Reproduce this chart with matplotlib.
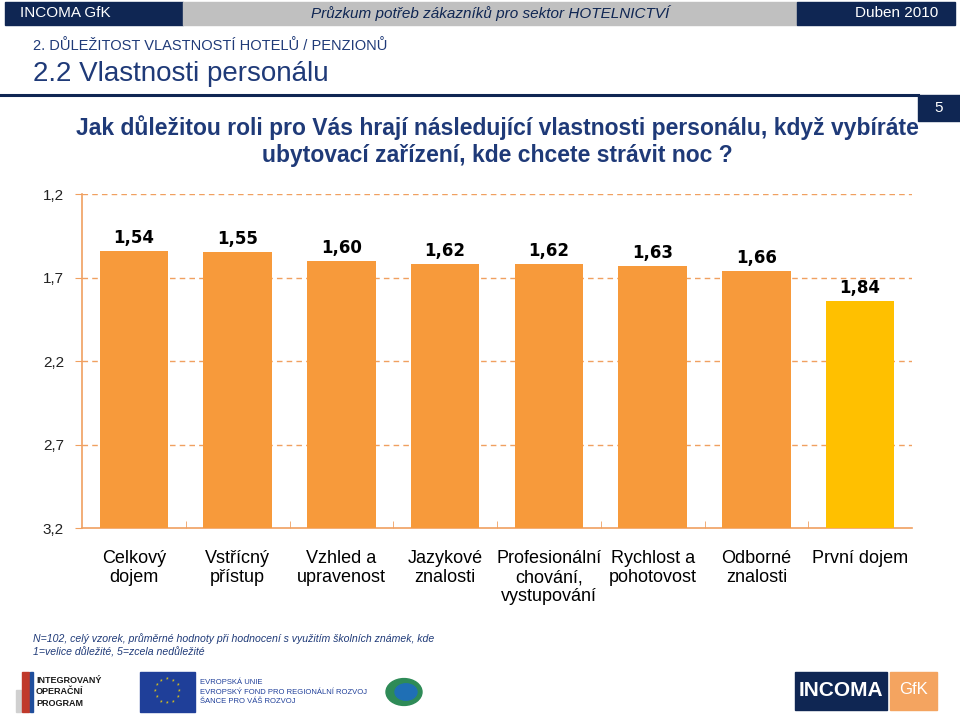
import numpy as np
import matplotlib.pyplot as plt
from matplotlib.patches import Rectangle, Circle

# data
categories = ["Celkový\ndojem", "Vstřícný\npřístup", "Vzhled a\nupravenost", "Jazykové\nznalosti",
              "Profesionální\nchování,\nvystupování", "Rychlost a\npohotovost", "Odborné\nznalosti",
              "První dojem"]
values = [1.54, 1.55, 1.60, 1.62, 1.62, 1.63, 1.66, 1.84]
value_labels = ["1,54", "1,55", "1,60", "1,62", "1,62", "1,63", "1,66", "1,84"]
yticks = [1.2, 1.7, 2.2, 2.7, 3.2]
ytick_labels = ["1,2", "1,7", "2,2", "2,7", "3,2"]

NAVY = "#0f2653"
ORANGE = "#f79a3b"
YELLOW = "#ffc000"
GRID = "#f0a060"
FONT = "Liberation Sans"

plt.rcParams["font.family"] = [FONT, "DejaVu Sans"]

fig = plt.figure(figsize=(9.6, 7.16), dpi=100)

W, H = 960, 716
def fx(px):
    return px / W
def fy(py):
    return 1 - py / H

# header band
fig.patches.append(Rectangle((fx(5), fy(25)), fx(178), 23 / H, color=NAVY, transform=fig.transFigure))
fig.patches.append(Rectangle((fx(183), fy(25)), fx(614), 23 / H, color="#c0c0c0", transform=fig.transFigure))
fig.patches.append(Rectangle((fx(797), fy(25)), fx(158), 23 / H, color=NAVY, transform=fig.transFigure))
fig.text(fx(20), fy(13), "INCOMA GfK", color="white", fontsize=11, va="center")
fig.text(fx(490), fy(13), "Průzkum potřeb zákazníků pro sektor HOTELNICTVÍ", color=NAVY,
         fontsize=11, style="italic", va="center", ha="center")
fig.text(fx(938), fy(13), "Duben 2010", color="white", fontsize=11, va="center", ha="right")

# section titles
fig.text(fx(33), fy(46), "2. DŮLEŽITOST VLASTNOSTÍ HOTELŮ / PENZIONŮ", color="#1f3a78", fontsize=10.5, va="center")
fig.text(fx(33), fy(74), "2.2 Vlastnosti personálu", color="#1f3a78", fontsize=20, va="center")
fig.add_artist(plt.Line2D([0, fx(918)], [fy(95), fy(95)], color=NAVY, lw=2.2, transform=fig.transFigure))
fig.patches.append(Rectangle((fx(918), fy(121)), fx(42), 26 / H, color=NAVY, transform=fig.transFigure))
fig.text(fx(939), fy(108), "5", color="white", fontsize=11, va="center", ha="center")

# question
fig.text(fx(497), fy(141), "Jak důležitou roli pro Vás hrají následující vlastnosti personálu, když vybíráte\n"
         "ubytovací zařízení, kde chcete strávit noc ?", color="#1f3a78", fontsize=16.5,
         fontweight="bold", ha="center", va="center", linespacing=1.2)

# chart
ax = fig.add_axes([fx(82), fy(528), fx(912 - 82), (528 - 194) / H])
x = np.arange(len(categories))
colors = [ORANGE] * (len(values) - 1) + [YELLOW]
heights = [v - 3.2 for v in values]
ax.bar(x, heights, bottom=3.2, width=0.66, color=colors, zorder=3)
for xi, v, lab in zip(x, values, value_labels):
    ax.text(xi, v - 0.025, lab, ha="center", va="bottom", fontsize=12, fontweight="bold",
            family="DejaVu Sans", zorder=4)

ax.set_xlim(-0.5, len(categories) - 0.5)
ax.set_ylim(3.2, 1.2)
ax.set_yticks(yticks)
ax.set_yticklabels(ytick_labels, fontsize=11, color="#222222")
for yv in yticks[:-1]:
    ax.axhline(yv, color=GRID, lw=1, ls=(0, (4, 3)), zorder=1)
ax.set_xticks(x)
ax.set_xticklabels(categories, fontsize=13, linespacing=1.15, va="top")
ax.tick_params(axis="x", length=0, pad=16)
ax.set_xticks(np.arange(0.5, len(categories) - 0.5, 1), minor=True)
ax.tick_params(axis="x", which="minor", direction="in", length=5, color=GRID)
ax.tick_params(axis="y", length=5, color=GRID, pad=8)
for side in ["top", "right"]:
    ax.spines[side].set_visible(False)
for side in ["left", "bottom"]:
    ax.spines[side].set_color(GRID)
    ax.spines[side].set_linewidth(1.2)

# footnote
fig.text(fx(33), fy(645), "N=102, celý vzorek, průměrné hodnoty při hodnocení s využitím školních známek, kde\n"
         "1=velice důležité, 5=zcela nedůležité", fontsize=7.6, style="italic", color="#1f3a78",
         va="center", linespacing=1.35)

# logos (simplified)
fig.patches.append(Rectangle((fx(16), fy(712)), fx(5), 22 / H, color="#d0d0d0", transform=fig.transFigure))
fig.patches.append(Rectangle((fx(22), fy(712)), fx(7), 40 / H, color="#c0392b", transform=fig.transFigure))
fig.patches.append(Rectangle((fx(30), fy(712)), fx(3), 40 / H, color="#1f4e9c", transform=fig.transFigure))
fig.text(fx(36), fy(692), "INTEGROVANÝ\nOPERAČNÍ\nPROGRAM", fontsize=6.5, fontweight="bold",
         color="#1a1a1a", va="center", linespacing=1.35)
fig.patches.append(Rectangle((fx(140), fy(712)), fx(55), 40 / H, color="#1f3f99", transform=fig.transFigure))
for ang in np.linspace(0, 2 * np.pi, 12, endpoint=False):
    fig.text(fx(167.5 + 12 * np.cos(ang)), fy(692 + 12 * np.sin(ang)), "*", color="#ffdd00",
             fontsize=5, ha="center", va="center")
fig.text(fx(200), fy(692), "EVROPSKÁ UNIE\nEVROPSKÝ FOND PRO REGIONÁLNÍ ROZVOJ\nŠANCE PRO VÁŠ ROZVOJ",
         fontsize=5.5, color="#1f3f99", va="center", linespacing=1.5)
fig.patches.append(Circle((fx(404), fy(692)), 18 / W, color="#2e8b57", transform=fig.transFigure))
fig.patches.append(Circle((fx(406), fy(692)), 11 / W, color="#1f6fb5", transform=fig.transFigure))
fig.patches.append(Rectangle((fx(795), fy(710)), fx(92), 38 / H, color=NAVY, transform=fig.transFigure))
fig.patches.append(Rectangle((fx(890), fy(710)), fx(47), 38 / H, color="#f4a460", transform=fig.transFigure))
fig.text(fx(841), fy(690), "INCOMA", color="white", fontsize=15, fontweight="bold", ha="center", va="center")
fig.text(fx(913), fy(690), "GfK", color="white", fontsize=12, ha="center", va="center")

fig.savefig("out.png", dpi=100)
